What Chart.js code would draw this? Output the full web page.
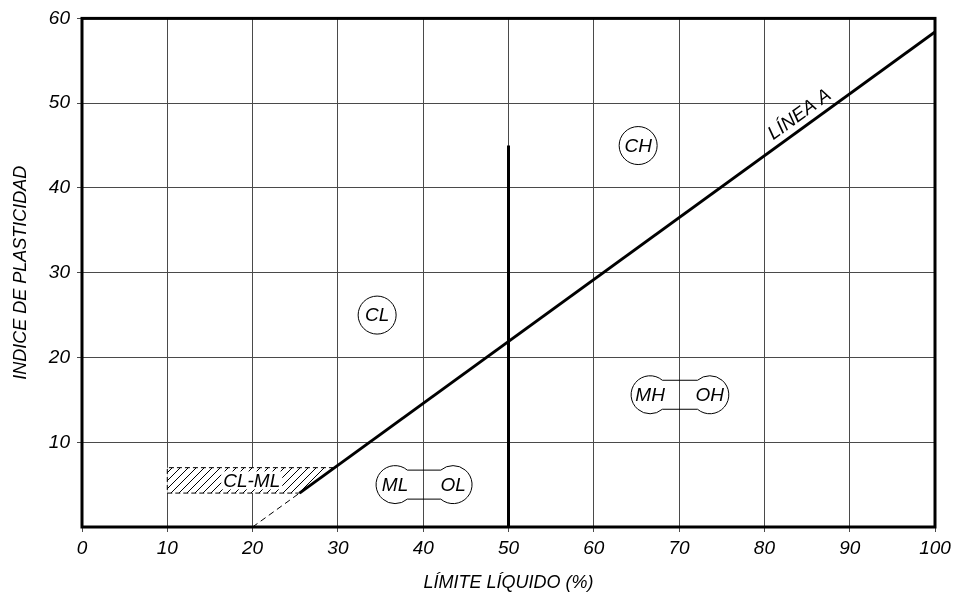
<!DOCTYPE html>
<html>
<head>
<meta charset="utf-8">
<script src="https://cdn.jsdelivr.net/npm/chart.js@4"></script>
<style>
  html, body { margin: 0; padding: 0; background: #fff; }
  #wrap { width: 956px; height: 597px; }
</style>
</head>
<body>
<div id="wrap"><canvas id="carta"></canvas></div>
<script>
// Carta de plasticidad (Casagrande)
const ticksLL = [0, 10, 20, 30, 40, 50, 60, 70, 80, 90, 100];
const ticksIP = [10, 20, 30, 40, 50, 60];

// Línea A: IP = 0.73 (LL - 20)
const lineaA_LL = [25.5, 100];
const lineaA_IP = [4, 58.4];
// prolongación a trazos hasta el eje
const prolA_LL = [20, 25.5];
const prolA_IP = [0, 4];

// línea vertical LL = 50
const lineaB_LL = [50, 50];
const lineaB_IP = [0, 45];

// zona rayada CL-ML
const banda_LL = [10, 25.5, 29.6, 10, 10];
const banda_IP = [4, 4, 7, 7, 4];

// grupos de suelo
const grupos = ["CL", "CH"];
const grupos_LL = [34.6, 65.2];
const grupos_IP = [25, 45];

const pares = [["ML", "OL"], ["MH", "OH"]];
const pares_LL = [[36.7, 43.5], [66.6, 73.6]];
const pares_IP = [5, 15.6];

const bandaTexto = "CL-ML";
const bandaTexto_LL = 19.9;
const bandaTexto_IP = 5.5;
const lineaTexto = "LÍNEA A";
const lineaTexto_LL = 85;

const FUENTE = "'Liberation Sans', Arial, sans-serif";

function puntos(xs, ys) {
    return xs.map((v, i) => ({ x: v, y: ys[i] }));
}

// trama de rayado diagonal
function rayado() {
    const c = document.createElement("canvas");
    c.width = 8;
    c.height = 8;
    const g = c.getContext("2d");
    g.fillStyle = "#fff";
    g.fillRect(0, 0, 8, 8);
    g.strokeStyle = "#000";
    g.lineWidth = 1;
    g.beginPath();
    g.moveTo(0, 8); g.lineTo(8, 0);
    g.moveTo(-1, 1); g.lineTo(1, -1);
    g.moveTo(7, 9); g.lineTo(9, 7);
    g.stroke();
    return g.createPattern(c, "repeat");
}

function pesa(ctx, x1, x2, cy, r, h) {
    const t = Math.asin(h / r);
    ctx.beginPath();
    ctx.arc(x1, cy, r, -t, t, true);
    ctx.lineTo(x2 - r * Math.cos(t), cy + h);
    ctx.arc(x2, cy, r, Math.PI - t, Math.PI + t, true);
    ctx.closePath();
    ctx.stroke();
}

const etiquetas = {
    id: "etiquetas",
    afterDatasetsDraw(chart) {
        const { ctx, chartArea: a, scales: { x, y } } = chart;
        ctx.save();
        ctx.strokeStyle = "#000";
        ctx.fillStyle = "#000";
        ctx.lineWidth = 1;
        ctx.font = "italic 19px " + FUENTE;
        ctx.textAlign = "center";
        ctx.textBaseline = "middle";

        grupos.forEach((g, i) => {
            const px = x.getPixelForValue(grupos_LL[i]);
            const py = y.getPixelForValue(grupos_IP[i]);
            ctx.beginPath();
            ctx.arc(px, py, 19, 0, 2 * Math.PI);
            ctx.stroke();
            ctx.fillText(g, px, py + 1);
        });

        pares.forEach((p, i) => {
            const x1 = x.getPixelForValue(pares_LL[i][0]);
            const x2 = x.getPixelForValue(pares_LL[i][1]);
            const py = y.getPixelForValue(pares_IP[i]);
            pesa(ctx, x1, x2, py, 19, 14.5);
            ctx.fillText(p[0], x1, py + 1);
            ctx.fillText(p[1], x2, py + 1);
        });

        // texto CL-ML sobre fondo blanco
        const bx = x.getPixelForValue(bandaTexto_LL);
        const by = y.getPixelForValue(bandaTexto_IP);
        const w = ctx.measureText(bandaTexto).width;
        ctx.fillStyle = "#fff";
        ctx.fillRect(bx - w / 2 - 2, by - 9, w + 4, 18);
        ctx.fillStyle = "#000";
        ctx.fillText(bandaTexto, bx, by + 1);

        // rótulo de la línea A
        const xa = x.getPixelForValue(lineaA_LL[0]), ya = y.getPixelForValue(lineaA_IP[0]);
        const xb = x.getPixelForValue(lineaA_LL[1]), yb = y.getPixelForValue(lineaA_IP[1]);
        const ang = Math.atan2(yb - ya, xb - xa);
        const ip = lineaA_IP[0] + (lineaA_IP[1] - lineaA_IP[0]) * (lineaTexto_LL - lineaA_LL[0]) / (lineaA_LL[1] - lineaA_LL[0]);
        ctx.translate(x.getPixelForValue(lineaTexto_LL), y.getPixelForValue(ip));
        ctx.rotate(ang);
        ctx.textBaseline = "bottom";
        ctx.fillText(lineaTexto, 0, -3);
        ctx.restore();

        // marco
        ctx.save();
        ctx.strokeStyle = "#000";
        ctx.lineWidth = 3;
        ctx.strokeRect(a.left, a.top, a.right - a.left, a.bottom - a.top);
        ctx.restore();
    }
};

const ctx = document.getElementById("carta").getContext("2d");
new Chart(ctx, {
    type: "scatter",
    data: {
        datasets: [
            {
                label: "Línea A",
                data: puntos(lineaA_LL, lineaA_IP),
                showLine: true,
                borderColor: "#000",
                borderWidth: 3,
                pointRadius: 0,
                order: 1
            },
            {
                label: "LL = 50",
                data: puntos(lineaB_LL, lineaB_IP),
                showLine: true,
                borderColor: "#000",
                borderWidth: 3,
                pointRadius: 0,
                order: 1
            },
            {
                label: "prolongación",
                data: puntos(prolA_LL, prolA_IP),
                showLine: true,
                borderColor: "#000",
                borderWidth: 1,
                borderDash: [6, 4],
                pointRadius: 0,
                order: 2
            },
            {
                label: "CL-ML",
                data: puntos(banda_LL, banda_IP),
                showLine: true,
                fill: "shape",
                backgroundColor: rayado(),
                borderColor: "#000",
                borderWidth: 1,
                borderDash: [5, 3],
                pointRadius: 0,
                order: 3
            }
        ]
    },
    options: {
        responsive: true,
        maintainAspectRatio: false,
        animation: false,
        layout: { padding: { top: 16, right: 21, bottom: 0, left: 0 } },
        plugins: {
            legend: { display: false },
            tooltip: { enabled: false }
        },
        scales: {
            x: {
                type: "linear",
                min: 0,
                max: 100,
                afterBuildTicks: s => { s.ticks = ticksLL.map(v => ({ value: v })); },
                afterFit: s => { s.height = 70; },
                grid: { color: "#4a4a4a", lineWidth: 1, tickLength: 5 },
                border: { display: false },
                ticks: {
                    color: "#000",
                    padding: 5,
                    maxRotation: 0,
                    font: { family: FUENTE, size: 19, style: "italic" }
                },
                title: {
                    display: true,
                    text: "LÍMITE LÍQUIDO (%)",
                    color: "#000",
                    padding: { top: 0, bottom: 3 },
                    font: { family: FUENTE, size: 18, style: "italic" }
                }
            },
            y: {
                type: "linear",
                min: 0,
                max: 60,
                afterBuildTicks: s => { s.ticks = ticksIP.map(v => ({ value: v })); },
                afterFit: s => { s.width = 82; },
                grid: { color: "#4a4a4a", lineWidth: 1, tickLength: 5 },
                border: { display: false },
                ticks: {
                    color: "#000",
                    padding: 7,
                    font: { family: FUENTE, size: 19, style: "italic" }
                },
                title: {
                    display: true,
                    text: "INDICE DE PLASTICIDAD",
                    color: "#000",
                    padding: { top: 10, bottom: 0 },
                    font: { family: FUENTE, size: 18, style: "italic" }
                }
            }
        }
    },
    plugins: [etiquetas]
});
</script>
</body>
</html>
